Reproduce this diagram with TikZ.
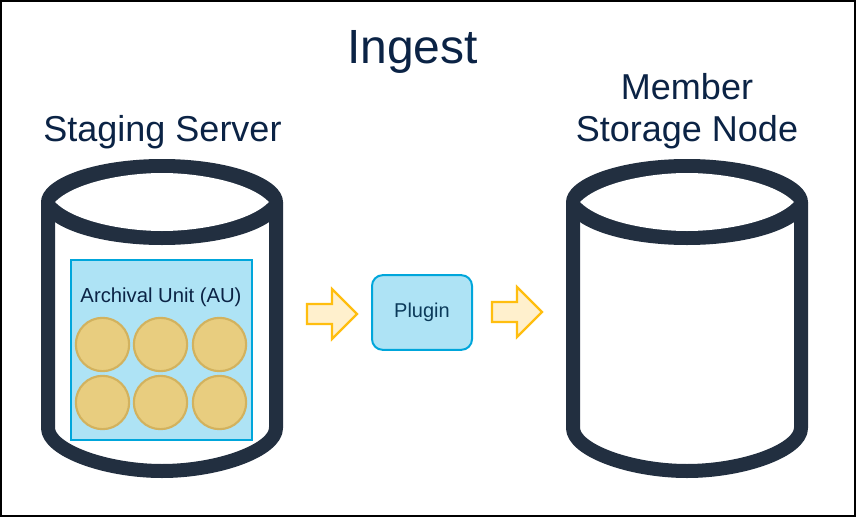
\documentclass[tikz,border=0pt]{standalone}
\usepackage{fontspec}
\setmainfont{Liberation Sans}
\definecolor{cyl}{HTML}{222F40}
\definecolor{navy}{HTML}{0B2345}
\definecolor{aufill}{HTML}{AEE3F5}
\definecolor{auline}{HTML}{00A6DB}
\definecolor{coin}{HTML}{E8CD7F}
\definecolor{coinline}{HTML}{D2B25E}
\definecolor{arrfill}{HTML}{FFF0CD}
\definecolor{arrline}{HTML}{FFBE0F}
\definecolor{plugtext}{HTML}{0B3A5A}
\tikzset{
  px/.style={x=0.75pt,y=-0.75pt},
  cylline/.style={draw=cyl,line width=10.5pt,line join=round},
  coinshape/.style={circle,draw=coinline,line width=1.6pt,fill=coin,minimum size=40pt,inner sep=0pt},
  blockarrow/.style={draw=arrline,fill=arrfill,line width=1.7pt,miter limit=10},
  title/.style={text=navy,font=\fontsize{27pt}{31.5pt}\selectfont,align=center,inner sep=0pt},
  ingest/.style={text=navy,font=\fontsize{36pt}{40pt}\selectfont,inner sep=0pt},
  label/.style={text=navy,font=\fontsize{15.2pt}{17pt}\selectfont,inner sep=0pt}
}
\newcommand{\cylinder}[1]{%
  \begin{scope}[shift={(#1,0)}]
    \draw[cylline,fill=white] (-114,202) -- (-114,428)
      .. controls (-114,450) and (-57,471) .. (0,471)
      .. controls (57,471) and (114,450) .. (114,428) -- (114,202);
    \fill[cyl] (0,202) ellipse [x radius=121,y radius=43];
    \fill[white] (-107,202) .. controls (-87,182) and (-37,173) .. (0,173)
      .. controls (37,173) and (87,182) .. (107,202)
      .. controls (87,222) and (37,231) .. (0,231)
      .. controls (-37,231) and (-87,222) .. (-107,202) -- cycle;
  \end{scope}}
\begin{document}
\begin{tikzpicture}[px]
\useasboundingbox (0,0) rectangle (856,517);
\draw[black,line width=1.5pt,fill=white] (1,1) rectangle (855,516);
\cylinder{162}
\cylinder{687}
\node[ingest] (t) at (412.5,51.5) {Ingest};
\node[title] (s) at (162.5,132) {Staging Server};
\node[title] (m) at (687,111.5) {Member\\Storage Node};
\node[draw=auline,fill=aufill,line width=1.5pt,minimum width=135.5pt,minimum height=134.5pt,inner sep=0pt] (au) at (161.3,350) {};
\node[label] (aul) at (161,297) {Archival Unit (AU)};
\node[coinshape] (c1) at (102.5,344.5) {};
\node[coinshape] (c2) at (160.5,344.5) {};
\node[coinshape] (c3) at (219.5,344.5) {};
\node[coinshape] (c4) at (102.5,402.5) {};
\node[coinshape] (c5) at (160.5,402.5) {};
\node[coinshape] (c6) at (219.5,402.5) {};
\node[draw=auline,fill=aufill,line width=1.5pt,rounded corners=8pt,minimum width=75pt,minimum height=56pt,inner sep=0pt,text=plugtext,font=\fontsize{15pt}{17pt}\selectfont] (p) at (422,312.5) {Plugin};
\draw[blockarrow] (307,304) -- (332,304) -- (332,289) -- (357,314) -- (332,339) -- (332,324) -- (307,324) -- cycle;
\draw[blockarrow] (492,302) -- (517,302) -- (517,287) -- (542,312) -- (517,337) -- (517,322) -- (492,322) -- cycle;
\end{tikzpicture}
\end{document}
